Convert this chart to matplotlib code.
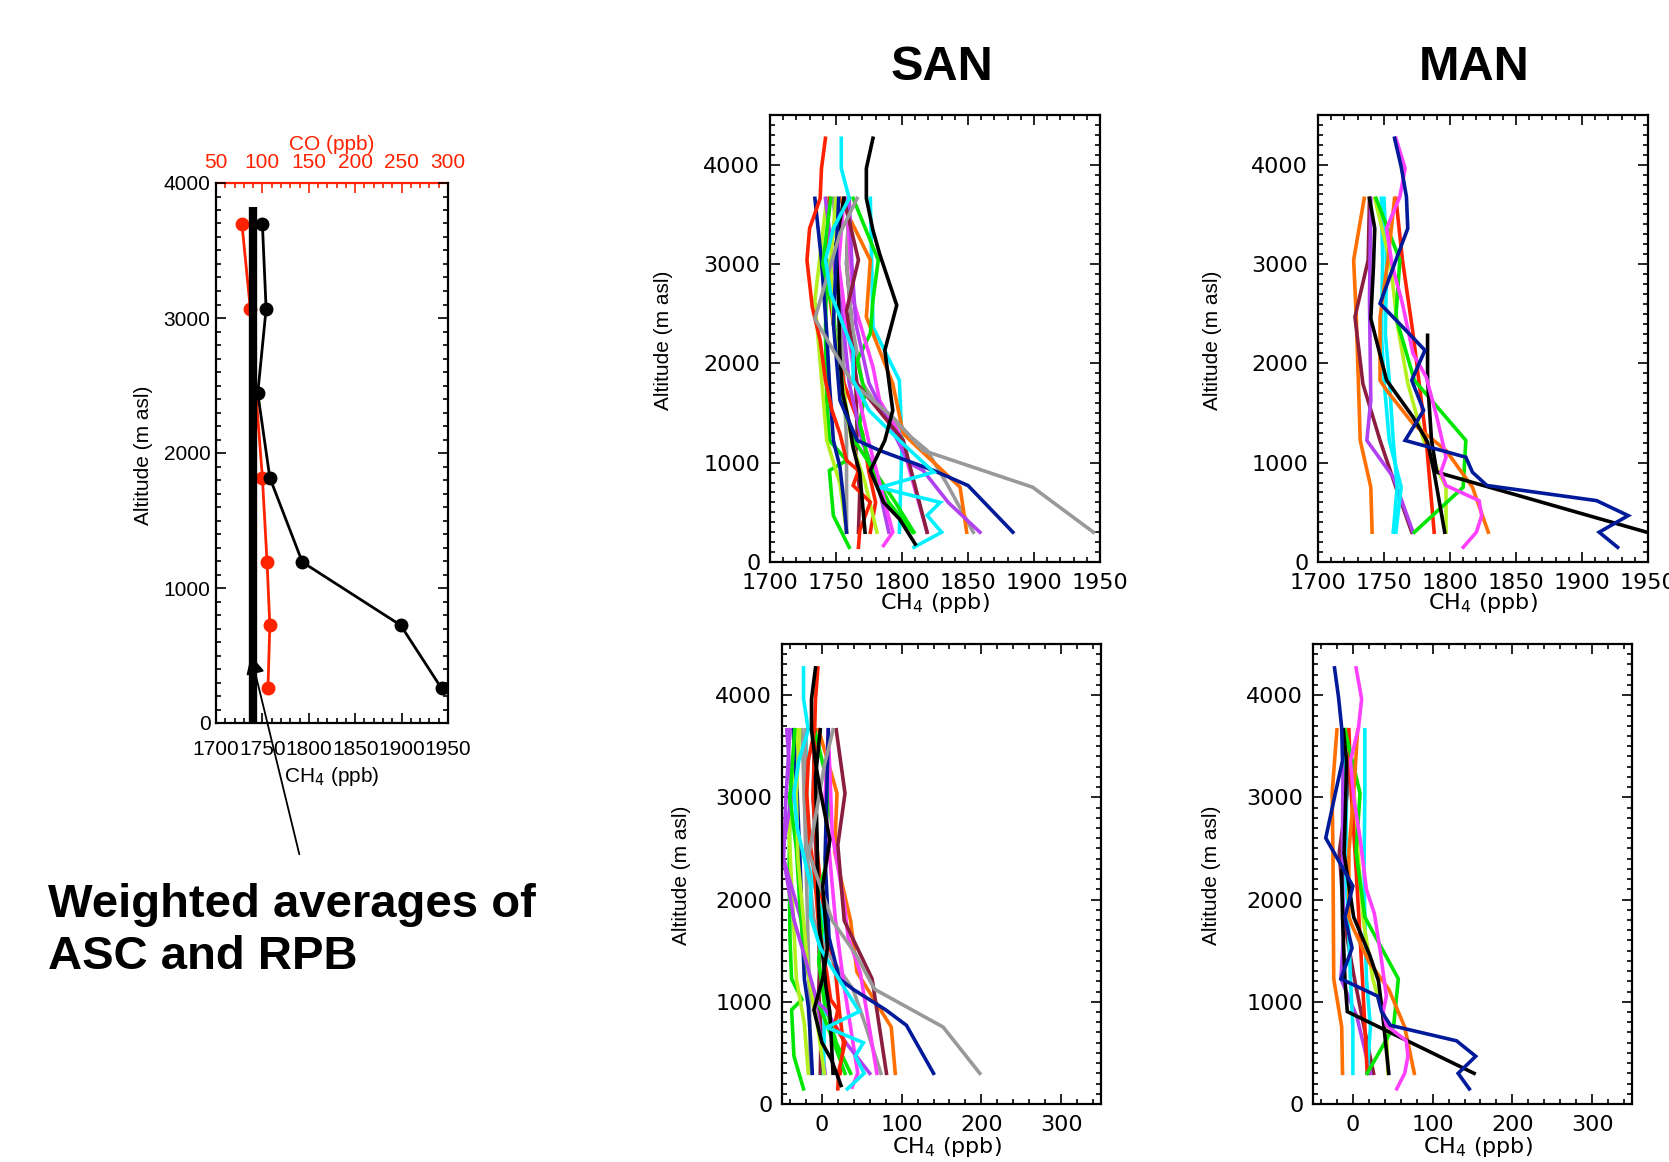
import matplotlib
matplotlib.use("Agg")
import matplotlib.pyplot as plt
from matplotlib.ticker import MultipleLocator

# ---- left panel: weighted averages of ASC and RPB ----
avg_alt = [3694, 3068, 2443, 1817, 1192, 724, 257]
avg_ch4 = [1750, 1754, 1745, 1758, 1793, 1899, 1943]
avg_co = [78, 87, 93, 100, 105, 108, 106]
bar_ch4 = 1740
bar_alt = [0, 3820]

RED, ORA, CYA, BLK = '#ff2200', '#ff7000', '#00f0ff', 'black'
DBL, GRN, YGR, MAG = '#001a9a', '#00e600', '#b4f01e', '#ff40ff'
PUR, MAR, GRY = '#b040f0', '#8b1e3f', '#999999'

# ---- SAN profiles: colour, altitude, CH4 (ppb), CH4 enhancement (ppb) ----
san_colors = [GRY, GRN, YGR, DBL, MAR, RED, PUR, CYA, GRY, ORA, GRN, GRN,
              YGR, MAG, MAG, PUR, MAR, RED, BLK, DBL, GRY, CYA, BLK]
san_alt = [
    [3661, 3000, 2400, 1800, 1200, 750, 300],
    [3039, 2300, 1627, 1224, 1022, 921, 467, 148],
    [3661, 2635, 1224, 787, 300],
    [3661, 3039, 2300, 1800, 1224, 955, 600, 300],
    [3661, 3000, 2400, 1800, 1300, 1100, 700, 300],
    [3661, 3000, 2400, 1800, 1300, 900, 600, 300],
    [3661, 3000, 2450, 1800, 1200, 900, 300],
    [3661, 2366, 1829, 1200, 300],
    [3661, 3000, 2400, 1800, 1500, 1123, 787, 300],
    [3661, 3039, 2467, 1795, 1290, 753, 300],
    [3661, 3039, 2635, 2300, 2030, 1700, 1400, 1000, 600, 300],
    [3661, 3000, 2500, 2000, 1500, 1200, 900, 600, 300],
    [3661, 3039, 2400, 1800, 1200, 800, 300],
    [3661, 2635, 1963, 1627, 1290, 300],
    [3661, 3000, 2400, 1800, 1200, 700, 300, 165],
    [3661, 3000, 2400, 1800, 1400, 1000, 921, 600, 300],
    [3661, 3039, 2534, 1795, 1224, 300],
    [4266, 3963, 3661, 3358, 3039, 2568, 2232, 1829, 1526, 1290, 1022, 921, 770, 602, 316, 148],
    [3661, 3200, 2600, 2063, 1700, 1400, 1150, 900, 600, 300],
    [3661, 3000, 2400, 1627, 1224, 1123, 921, 770, 300],
    [3661, 3307, 2450, 2131, 1795, 1459, 1123, 753, 300],
    [4266, 3963, 3661, 3358, 3039, 2700, 2434, 2131, 1829, 1526, 1224, 905, 750, 600, 470, 300, 148],
    [4266, 3963, 3661, 3340, 3105, 2585, 2131, 1526, 1224, 921, 602, 434, 181],
]
san_ch4 = [
    [1748, 1752, 1755, 1756, 1758, 1758, 1758],
    [1743, 1742, 1743, 1745, 1758, 1745, 1748, 1760],
    [1743, 1734, 1743, 1753, 1758],
    [1734, 1739, 1743, 1745, 1748, 1753, 1756, 1758],
    [1760, 1758, 1762, 1765, 1766, 1765, 1768, 1767],
    [1745, 1742, 1748, 1756, 1770, 1775, 1780, 1776],
    [1742, 1748, 1755, 1760, 1770, 1780, 1790],
    [1776, 1778, 1798, 1800, 1798],
    [1760, 1758, 1762, 1770, 1785, 1819, 1834, 1854],
    [1753, 1776, 1773, 1793, 1801, 1844, 1849],
    [1763, 1782, 1778, 1776, 1766, 1772, 1768, 1775, 1790, 1808],
    [1746, 1740, 1748, 1752, 1757, 1765, 1780, 1795, 1809],
    [1750, 1746, 1748, 1755, 1762, 1772, 1781],
    [1758, 1763, 1778, 1783, 1798, 1819],
    [1756, 1752, 1758, 1765, 1775, 1785, 1793, 1786],
    [1760, 1762, 1765, 1775, 1790, 1805, 1816, 1835, 1859],
    [1756, 1767, 1758, 1766, 1801, 1819],
    [1742, 1739, 1738, 1730, 1728, 1732, 1738, 1742, 1747, 1753, 1758, 1767, 1763, 1776, 1768, 1767],
    [1756, 1750, 1752, 1753, 1755, 1760, 1763, 1768, 1770, 1772],
    [1752, 1750, 1748, 1753, 1766, 1783, 1824, 1850, 1884],
    [1766, 1753, 1734, 1748, 1763, 1793, 1816, 1899, 1945],
    [1754, 1754, 1760, 1748, 1742, 1746, 1754, 1763, 1763, 1775, 1798, 1824, 1783, 1829, 1819, 1830, 1809],
    [1778, 1773, 1773, 1778, 1783, 1796, 1787, 1793, 1787, 1776, 1786, 1798, 1810],
]
san_enh = [
    [-25, -22, -20, -18, -16, -15, -15],
    [-40, -41, -40, -38, -25, -38, -35, -23],
    [-32, -41, -32, -22, -17],
    [-36, -31, -27, -25, -22, -17, -14, -12],
    [-9, -11, -7, -4, -3, -4, -1, -2],
    [-8, -11, -5, 3, 17, 22, 27, 23],
    [-44, -38, -50, -26, -16, -6, 4],
    [-20, -18, 2, 4, 2],
    [-20, -22, -18, -10, 5, 39, 54, 74],
    [-4, 19, 16, 36, 44, 87, 92],
    [-9, 10, 6, 4, -6, 0, -4, 3, 18, 36],
    [-34, -40, -32, -28, -23, -15, 0, 15, 29],
    [-28, -32, -30, -23, -16, -6, 3],
    [8, 13, 28, 33, 48, 69],
    [8, 4, 10, 17, 27, 37, 45, 38],
    [-40, -45, -48, -35, -20, -6, 5, 30, 60],
    [18, 29, 20, 28, 63, 81],
    [-5, -8, -9, -17, -19, -15, -9, -5, 0, 6, 11, 20, 16, 29, 21, 20],
    [-2, -8, -6, -5, -3, 2, 5, 10, 12, 14],
    [8, 6, 4, 9, 22, 39, 80, 106, 140],
    [14, 3, -16, -2, 13, 43, 66, 152, 198],
    [-23, -23, -17, -29, -35, -31, -23, -14, -14, -2, 21, 47, 6, 52, 42, 53, 32],
    [-8, -13, -13, -8, -3, 10, 1, 7, 1, -10, 0, 12, 24],
]

# ---- MAN profiles ----
man_colors = [ORA, MAR, PUR, CYA, CYA, YGR, RED, GRN, ORA, BLK, BLK, MAG, DBL]
man_alt = [
    [3661, 3039, 2467, 1224, 753, 300],
    [3661, 3039, 2467, 1795, 1224, 753, 300],
    [3661, 2635, 1627, 1224, 854, 300],
    [3661, 3039, 2299, 1829, 1224, 753, 300],
    [3661, 3039, 2299, 1829, 1224, 753, 300],
    [3661, 3000, 2400, 1800, 1224, 753, 300],
    [3661, 3039, 2299, 1224, 300],
    [3661, 3039, 2467, 1829, 1224, 753, 300],
    [3661, 3039, 2467, 1829, 1728, 1392, 1123, 753, 300],
    [3661, 3358, 2971, 2450, 1829, 1459, 1207, 900, 600, 300],
    [2282, 1830, 1224, 904, 300],
    [4266, 3963, 3677, 3358, 3000, 2600, 2097, 1862, 1459, 1055, 904, 770, 618, 467, 300, 148],
    [4266, 3980, 3677, 3358, 3039, 2602, 2299, 2131, 1829, 1526, 1224, 1055, 904, 770, 618, 467, 300, 148],
]
man_ch4 = [
    [1735, 1727, 1729, 1732, 1740, 1741],
    [1739, 1738, 1728, 1734, 1747, 1759, 1771],
    [1740, 1739, 1740, 1737, 1757, 1772],
    [1748, 1749, 1748, 1750, 1754, 1763, 1759],
    [1750, 1752, 1751, 1754, 1757, 1760, 1757],
    [1743, 1755, 1760, 1768, 1780, 1797, 1797],
    [1759, 1764, 1772, 1782, 1788],
    [1744, 1762, 1759, 1773, 1812, 1810, 1773],
    [1758, 1753, 1747, 1747, 1752, 1772, 1797, 1817, 1829],
    [1739, 1743, 1742, 1740, 1752, 1772, 1783, 1788, 1792, 1796],
    [1783, 1783, 1786, 1790, 1949],
    [1759, 1766, 1762, 1752, 1756, 1764, 1772, 1782, 1790, 1797, 1793, 1797, 1822, 1824, 1820, 1810],
    [1758, 1763, 1767, 1768, 1759, 1747, 1769, 1781, 1771, 1780, 1766, 1812, 1817, 1828, 1911, 1935, 1913, 1927],
]
man_enh = [
    [-20, -26, -25, -24, -14, -13],
    [-6, -7, -17, -11, 2, 14, 26],
    [-12, -13, -12, -15, 5, 22],
    [15, 15, 14, 15, 17, 22, 18],
    [-10, -8, -9, -6, -3, 0, 0],
    [-8, 2, 7, 13, 25, 42, 44],
    [-5, -2, 4, 12, 18],
    [-10, 9, 4, 15, 57, 51, 18],
    [6, 1, -5, -5, 0, 20, 45, 65, 77],
    [-12, -8, -9, -11, 1, 21, 32, 37, 41, 45],
    [-14, -13, -10, -7, 152],
    [4, 11, 7, -3, 1, 9, 17, 27, 35, 42, 38, 42, 67, 69, 65, 55],
    [-23, -18, -14, -13, -22, -34, -12, 0, -10, -1, -15, 31, 36, 47, 130, 154, 132, 146],
]

W, H = 1669, 1162
fig = plt.figure(figsize=(W / 100, H / 100), dpi=100)
fig.patch.set_facecolor('white')


def box(l, t, r, b):
    return [l / W, 1 - b / H, (r - l) / W, (b - t) / H]


def idl_style(ax, xmaj, xmin, font, size, xpad, ypad):
    ax.xaxis.set_major_locator(MultipleLocator(xmaj))
    ax.xaxis.set_minor_locator(MultipleLocator(xmin))
    ax.yaxis.set_major_locator(MultipleLocator(1000))
    ax.yaxis.set_minor_locator(MultipleLocator(100))
    ax.tick_params(which='both', direction='in', top=True, right=True,
                   width=1.2, labelsize=size, labelfontfamily=font)
    ax.tick_params(which='major', length=7)
    ax.tick_params(which='minor', length=3.5)
    ax.tick_params(axis='x', pad=xpad)
    ax.tick_params(axis='y', pad=ypad)
    for s in ax.spines.values():
        s.set_linewidth(1.6)


# ---- left panel ----
ax0 = fig.add_axes(box(216, 183, 448, 723))
ax0.plot(avg_ch4, avg_alt, '-o', color='black', lw=2, ms=9, zorder=3)
ax0.plot([bar_ch4, bar_ch4], bar_alt, color='black', lw=6, solid_capstyle='butt', zorder=4)
ax0.set_xlim(1700, 1950)
ax0.set_ylim(0, 4000)
idl_style(ax0, 50, 10, 'Liberation Sans', 15, 12, 4)
ax0.tick_params(which='both', top=False)
ax0.spines['top'].set_visible(False)

ax0b = ax0.twiny()
ax0b.plot(avg_co, avg_alt, '-o', color=RED, lw=2, ms=9, zorder=2)
ax0b.set_xlim(50, 300)
ax0b.xaxis.set_major_locator(MultipleLocator(50))
ax0b.xaxis.set_minor_locator(MultipleLocator(10))
ax0b.tick_params(which='both', direction='in', colors=RED, width=1.2,
                 labelsize=15, labelfontfamily='Liberation Sans', pad=8)
ax0b.tick_params(which='major', length=7)
ax0b.tick_params(which='minor', length=3.5)
for k, s in ax0b.spines.items():
    s.set_visible(k == 'top')
ax0b.spines['top'].set_color(RED)
ax0b.spines['top'].set_linewidth(1.6)
ax0.set_zorder(ax0b.get_zorder() + 1)
ax0.patch.set_visible(False)

fig.text(143 / W, 1 - 455 / H, 'Altitude (m asl)', rotation=90, ha='center', va='center',
         fontsize=15, family='Liberation Sans')
fig.text(332 / W, 1 - 777 / H, 'CH$_4$ (ppb)', ha='center', va='center',
         fontsize=15, family='Liberation Sans')
fig.text(332 / W, 1 - 144 / H, 'CO (ppb)', ha='center', va='center',
         fontsize=15, family='Liberation Sans', color=RED)

ax0.annotate('', xy=(1737, 520), xycoords='data',
             xytext=(300 / W, 1 - 857 / H), textcoords='figure fraction',
             arrowprops=dict(arrowstyle='-|>', color='black', lw=1.3, mutation_scale=28),
             annotation_clip=False, zorder=6)

fig.text(48 / W, 1 - 917 / H, 'Weighted averages of', ha='left', va='baseline',
         fontsize=34, fontweight='bold', family='Liberation Sans')
fig.text(48 / W, 1 - 969 / H, 'ASC and RPB', ha='left', va='baseline',
         fontsize=34, fontweight='bold', family='Liberation Sans')

# ---- profile panels ----
panels = [
    (box(770, 115, 1100, 562), san_colors, san_alt, san_ch4, (1700, 1950), 50, 10, (663, 340), (935, 603)),
    (box(1318, 115, 1648, 562), man_colors, man_alt, man_ch4, (1700, 1950), 50, 10, (1212, 340), (1483, 603)),
    (box(782, 644, 1101, 1104), san_colors, san_alt, san_enh, (-50, 350), 100, 20, (681, 875), (947, 1147)),
    (box(1313, 644, 1632, 1104), man_colors, man_alt, man_enh, (-50, 350), 100, 20, (1211, 875), (1478, 1147)),
]
for rect, colors, alts, vals, xlim, xmaj, xmin, ylab, xlab in panels:
    ax = fig.add_axes(rect)
    for c, a, v in zip(colors, alts, vals):
        ax.plot(v, a, color=c, lw=2.6, solid_joinstyle='miter')
    ax.set_xlim(*xlim)
    ax.set_ylim(0, 4500)
    idl_style(ax, xmaj, xmin, 'DejaVu Sans', 16, 8, 7)
    fig.text(ylab[0] / W, 1 - ylab[1] / H, 'Altitude (m asl)', rotation=90,
             ha='center', va='center', fontsize=15, family='Liberation Sans')
    fig.text(xlab[0] / W, 1 - xlab[1] / H, 'CH$_4$ (ppb)', ha='center', va='center',
             fontsize=16, family='DejaVu Sans')

fig.text(942 / W, 1 - 67 / H, 'SAN', ha='center', va='center', fontsize=35,
         fontweight='bold', family='Liberation Sans')
fig.text(1474 / W, 1 - 67 / H, 'MAN', ha='center', va='center', fontsize=35,
         fontweight='bold', family='Liberation Sans')

fig.savefig('out.png', dpi=100, facecolor='white')
